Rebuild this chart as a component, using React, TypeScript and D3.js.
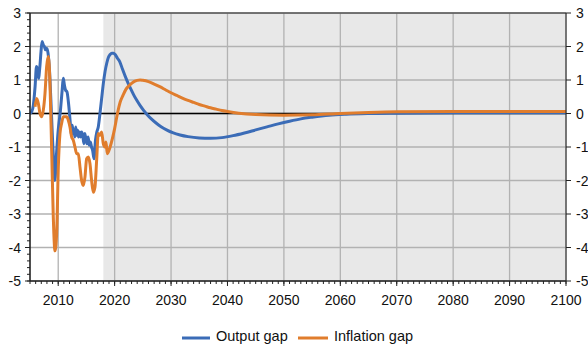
import React from "react";
import * as d3 from "d3";

const outputYears = [
  2005.0, 2005.3, 2005.6, 2005.9, 2006.15, 2006.3, 2006.5, 2006.75, 2006.95, 2007.15, 2007.35, 2007.55, 2007.75, 2007.95,
  2008.2, 2008.45, 2008.7, 2008.95, 2009.2, 2009.4, 2009.7, 2010.0, 2010.4, 2010.7, 2010.9, 2011.1, 2011.3, 2011.55, 2011.8,
  2012.0, 2012.2, 2012.35, 2012.5, 2012.65, 2012.8, 2012.95, 2013.1, 2013.25, 2013.45, 2013.6, 2013.8, 2014.0, 2014.15,
  2014.35, 2014.55, 2014.7, 2014.9, 2015.1, 2015.3, 2015.5, 2015.7, 2015.9, 2016.1, 2016.35, 2016.6, 2016.85, 2017.1,
  2017.4, 2017.7, 2018.0, 2018.3, 2018.6, 2018.9, 2019.2, 2019.5, 2019.8, 2020.1, 2020.5, 2020.9, 2021.4, 2021.9, 2022.4,
  2022.9, 2023.4, 2023.9, 2024.5, 2025.1, 2025.7, 2026.5, 2027.4, 2028.3, 2029.2, 2030.4, 2031.6, 2033, 2035, 2037, 2039,
  2041, 2043, 2045, 2047, 2049, 2051, 2053, 2055, 2058, 2061, 2065, 2070, 2080, 2090, 2100,
];
const outputGap = [
  0.0, 0.05, 0.25, 0.8, 1.4, 1.35, 1.05, 1.4, 1.85, 2.15, 2.05, 2.0, 1.9, 1.95,
  1.8, 1.3, 0.4, -0.6, -1.5, -2.0, -1.2, -0.5, 0.1, 0.7, 1.05, 0.85, 0.7, 0.65, 0.35,
  0.0, -0.4, -0.65, -0.35, -0.6, -0.5, -0.7, -0.4, -0.65, -0.5, -0.7, -0.55, -0.7, -0.55,
  -0.65, -0.9, -0.6, -0.75, -0.9, -0.7, -0.95, -0.85, -1.0, -1.1, -1.35, -0.8, -0.55, -0.4,
  0.0, 0.45, 0.9, 1.25, 1.5, 1.68, 1.76, 1.8, 1.8, 1.76, 1.65, 1.55, 1.32, 1.1, 0.9,
  0.72, 0.55, 0.4, 0.24, 0.1, -0.02, -0.16, -0.29, -0.4, -0.49, -0.58, -0.64, -0.69, -0.73, -0.74, -0.72,
  -0.66, -0.58, -0.49, -0.4, -0.31, -0.23, -0.16, -0.11, -0.05, -0.02, 0.0, 0.01, 0.02, 0.02, 0.02,
];

const inflationYears = [
  2005.89, 2006.18, 2006.48, 2006.77, 2007.07, 2007.36, 2007.66, 2007.95, 2008.25, 2008.54, 2008.84, 2009.13, 2009.43,
  2009.72, 2010.02, 2010.31, 2010.6, 2010.9, 2011.5, 2011.79, 2012.08, 2012.38, 2012.67, 2012.97, 2013.27, 2013.56,
  2013.86, 2014.15, 2014.45, 2014.74, 2015.04, 2015.33, 2015.63, 2015.92, 2016.22, 2016.51, 2016.81, 2017.1, 2017.4,
  2017.69, 2017.99, 2018.28, 2018.46, 2018.7, 2019.2, 2019.6, 2020.0, 2020.5, 2021.0, 2021.5, 2022.0, 2022.5, 2023.0,
  2023.5, 2024.0, 2024.5, 2025.0, 2026, 2027, 2028, 2029, 2030, 2031, 2032, 2033, 2034, 2035, 2036, 2037, 2038, 2039,
  2040, 2042, 2045, 2050, 2055, 2060, 2065, 2070, 2080, 2090, 2100,
];
const inflationGap = [
  0.2, 0.45, 0.3, 0.0, -0.1, 0.1, 0.6, 1.4, 1.7, 0.9, -1.1, -3.1, -4.1,
  -3.6, -1.6, -0.6, -0.3, -0.1, -0.1, -0.2, -0.4, -0.7, -0.8, -1.0, -1.2, -1.2,
  -1.6, -2.0, -2.15, -1.9, -1.35, -1.3, -1.5, -2.0, -2.35, -2.2, -1.4, -0.6, -0.65,
  -0.55, -0.9, -1.0, -0.85, -1.2, -1.0, -0.75, -0.45, 0.0, 0.35, 0.55, 0.72, 0.82, 0.9,
  0.96, 0.99, 1.0, 0.99, 0.95, 0.88, 0.8, 0.71, 0.62, 0.54, 0.46, 0.39, 0.33, 0.27, 0.22, 0.17, 0.13, 0.09,
  0.06, 0.01, -0.03, -0.05, -0.04, 0.0, 0.03, 0.05, 0.06, 0.06, 0.06,
];

const xTicks = [2010, 2020, 2030, 2040, 2050, 2060, 2070, 2080, 2090, 2100];
const yTicks = [-5, -4, -3, -2, -1, 0, 1, 2, 3];
const projectionStart = 2018;
const seriesNames = ["Output gap", "Inflation gap"];
const seriesColors = ["#3b6cb7", "#e07d2d"];

const W = 588;
const H = 345;
const M = { left: 30, right: 22, top: 13, bottom: 64 };
const FONT = "'Liberation Sans', Arial, Helvetica, sans-serif";

export default function App() {
  const x = d3.scaleLinear().domain([2005, 2100]).range([M.left, W - M.right]);
  const y = d3.scaleLinear().domain([-5, 3]).range([H - M.bottom, M.top]);
  const x0 = x.range()[0], x1 = x.range()[1];
  const yTop = y(3), yBot = y(-5);

  const line = d3
    .line<[number, number]>()
    .x((d) => x(d[0]))
    .y((d) => y(d[1]))
    .curve(d3.curveMonotoneX);

  const outData = outputYears.map((yr, i) => [yr, outputGap[i]] as [number, number]);
  const infData = inflationYears.map((yr, i) => [yr, inflationGap[i]] as [number, number]);

  const minorX = d3.range(2005, 2101, 1);
  const minorY = d3.range(-5, 3.001, 0.2);

  return (
    <svg width={W} height={H} style={{ position: "absolute", left: 0, top: 0 }} fontFamily={FONT}>
      <rect x={0} y={0} width={W} height={H} fill="#fff" />
      <rect x={x(projectionStart)} y={yTop} width={x1 - x(projectionStart)} height={yBot - yTop} fill="#e8e8e8" />
      {xTicks.map((t) => (
        <line key={"gx" + t} x1={x(t)} x2={x(t)} y1={yTop} y2={yBot} stroke="#b2b2b2" strokeWidth={1.3} />
      ))}
      {yTicks.map((t) => (
        <line key={"gy" + t} x1={x0} x2={x1} y1={y(t)} y2={y(t)} stroke="#b2b2b2" strokeWidth={1.3} />
      ))}
      <line x1={x0} x2={x1} y1={y(0)} y2={y(0)} stroke="#000" strokeWidth={1.3} />
      <path d={line(outData) || ""} fill="none" stroke={seriesColors[0]} strokeWidth={3} strokeLinejoin="round" />
      <path d={line(infData) || ""} fill="none" stroke={seriesColors[1]} strokeWidth={3} strokeLinejoin="round" />
      {/* frame */}
      <line x1={x0} x2={x1} y1={yTop} y2={yTop} stroke="#222" strokeWidth={1} />
      <line x1={x0} x2={x1} y1={yBot} y2={yBot} stroke="#222" strokeWidth={1.3} />
      <line x1={x1} x2={x1} y1={yTop} y2={yBot} stroke="#222" strokeWidth={1} />
      <line x1={x0} x2={x0} y1={yTop} y2={yBot} stroke="#222" strokeWidth={1.6} />
      {/* minor ticks */}
      {minorX.map((t) => (
        <line key={"mx" + t} x1={x(t)} x2={x(t)} y1={yBot} y2={yBot + 3} stroke="#222" strokeWidth={1} />
      ))}
      {minorY.map((t, i) => (
        <line key={"my" + i} x1={x0 - 3} x2={x0} y1={y(t)} y2={y(t)} stroke="#222" strokeWidth={1} />
      ))}
      {xTicks.map((t) => (
        <g key={"xt" + t}>
          <line x1={x(t)} x2={x(t)} y1={yBot} y2={yBot + 5} stroke="#222" strokeWidth={1} />
          <text x={x(t)} y={305} textAnchor="middle" fontSize={14} fill="#111">
            {t}
          </text>
        </g>
      ))}
      {yTicks.map((t) => (
        <g key={"yt" + t}>
          <line x1={x0 - 5} x2={x0} y1={y(t)} y2={y(t)} stroke="#222" strokeWidth={1} />
          <text x={21} y={y(t)} dy="0.36em" textAnchor="end" fontSize={14} fill="#111">
            {t}
          </text>
          <line x1={x1} x2={x1 + 5} y1={y(t)} y2={y(t)} stroke="#222" strokeWidth={1} />
          <text x={576} y={y(t)} dy="0.36em" textAnchor="start" fontSize={14} fill="#111">
            {t}
          </text>
        </g>
      ))}
      {/* legend */}
      <g>
        <line x1={182} x2={210} y1={338} y2={338} stroke={seriesColors[0]} strokeWidth={3} />
        <text x={216} y={341} fontSize={14.5} fill="#111">
          {seriesNames[0]}
        </text>
        <line x1={298} x2={328} y1={338} y2={338} stroke={seriesColors[1]} strokeWidth={3} />
        <text x={334} y={341} fontSize={14.5} fill="#111">
          {seriesNames[1]}
        </text>
      </g>
    </svg>
  );
}
